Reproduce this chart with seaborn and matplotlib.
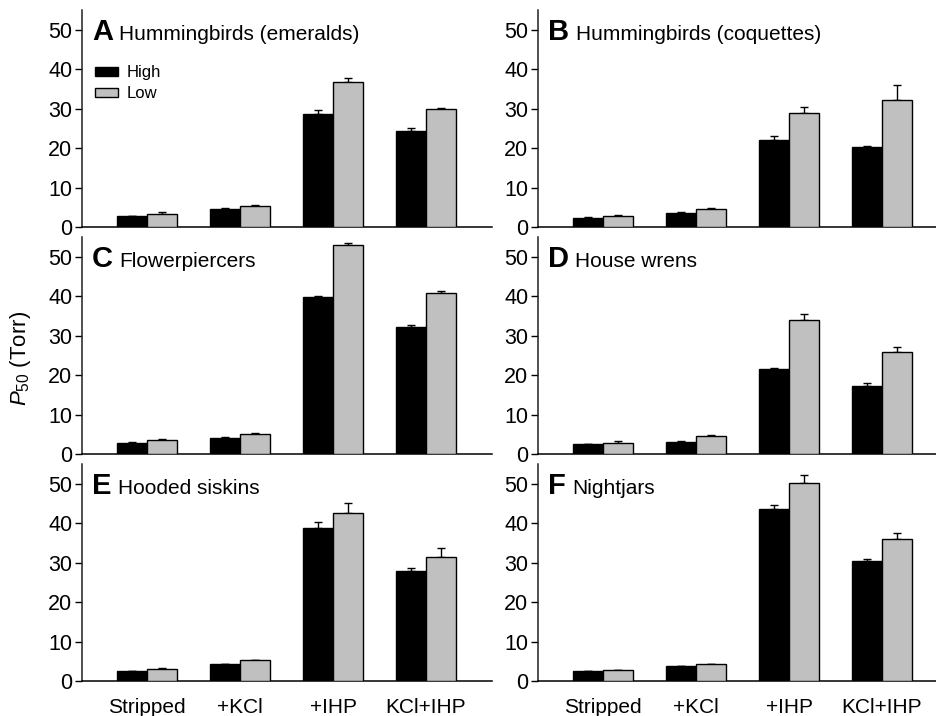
import matplotlib
matplotlib.use("Agg")
import matplotlib.pyplot as plt
from matplotlib.patches import Patch
import seaborn as sns
import pandas as pd
import numpy as np

# ---------------- data ----------------
conditions = ["Stripped", "+KCl", "+IHP", "KCl+IHP"]
groups = ["High", "Low"]
panel_letters = ["A", "B", "C", "D", "E", "F"]
panel_names = ["Hummingbirds (emeralds)", "Hummingbirds (coquettes)",
               "Flowerpiercers", "House wrens", "Hooded siskins", "Nightjars"]

A_high = [2.8, 4.6, 28.6, 24.3]
A_high_se = [0.1, 0.1, 1.1, 0.9]
A_low = [3.2, 5.4, 36.8, 29.9]
A_low_se = [0.5, 0.3, 0.9, 0.3]

B_high = [2.4, 3.6, 22.0, 20.3]
B_high_se = [0.1, 0.1, 1.0, 0.3]
B_low = [2.9, 4.6, 28.9, 32.1]
B_low_se = [0.1, 0.1, 1.6, 3.9]

C_high = [2.9, 4.1, 39.7, 32.2]
C_high_se = [0.1, 0.1, 0.4, 0.5]
C_low = [3.6, 5.1, 52.9, 40.8]
C_low_se = [0.3, 0.1, 0.7, 0.4]

D_high = [2.5, 3.1, 21.5, 17.2]
D_high_se = [0.1, 0.2, 0.4, 0.7]
D_low = [2.9, 4.6, 34.0, 25.8]
D_low_se = [0.3, 0.1, 1.6, 1.3]

E_high = [2.5, 4.2, 38.9, 27.9]
E_high_se = [0.1, 0.1, 1.3, 0.7]
E_low = [3.1, 5.2, 42.6, 31.5]
E_low_se = [0.1, 0.2, 2.6, 2.2]

F_high = [2.5, 3.8, 43.6, 30.3]
F_high_se = [0.1, 0.1, 1.1, 0.7]
F_low = [2.8, 4.2, 50.3, 36.1]
F_low_se = [0.1, 0.2, 1.8, 1.3]

yticks = [0, 10, 20, 30, 40, 50]

panels = [
    (A_high, A_high_se, A_low, A_low_se),
    (B_high, B_high_se, B_low, B_low_se),
    (C_high, C_high_se, C_low, C_low_se),
    (D_high, D_high_se, D_low, D_low_se),
    (E_high, E_high_se, E_low, E_low_se),
    (F_high, F_high_se, F_low, F_low_se),
]

# ---------------- style ----------------
sns.set_style("ticks")
plt.rcParams["font.family"] = ["Liberation Sans", "DejaVu Sans"]
plt.rcParams["mathtext.fontset"] = "custom"
plt.rcParams["mathtext.rm"] = "Liberation Sans"
plt.rcParams["mathtext.it"] = "Liberation Sans:italic"
plt.rcParams["axes.linewidth"] = 1.1
plt.rcParams["text.color"] = "black"
plt.rcParams["xtick.color"] = "black"
plt.rcParams["ytick.color"] = "black"
plt.rcParams["axes.edgecolor"] = "black"
plt.rcParams["axes.labelcolor"] = "black"

colors = {"High": "#000000", "Low": "#c0c0c0"}

W, H = 936, 716
fig = plt.figure(figsize=(W / 100, H / 100), dpi=100)

ax_w = 410 / W
ax_h = 217 / H
lefts = [82 / W, 538 / W]
bottoms = [1 - 227 / H, 1 - 454 / H, 1 - 681 / H]

renderer = fig.canvas.get_renderer()

for i, (hi, hi_se, lo, lo_se) in enumerate(panels):
    row, col = divmod(i, 2)
    ax = fig.add_axes([lefts[col], bottoms[row], ax_w, ax_h])
    df = pd.DataFrame({
        "condition": conditions * 2,
        "group": ["High"] * 4 + ["Low"] * 4,
        "value": hi + lo,
    })
    sns.barplot(data=df, x="condition", y="value", hue="group",
                order=conditions, hue_order=groups, palette=colors,
                width=0.645, edgecolor="black", linewidth=1.0,
                errorbar=None, legend=False, ax=ax, zorder=3)
    for cont, errs in zip(ax.containers, [hi_se, lo_se]):
        xs = [p.get_x() + p.get_width() / 2 for p in cont.patches]
        hs = [p.get_height() for p in cont.patches]
        ax.errorbar(xs, hs, yerr=[np.zeros(len(errs)), errs], fmt="none",
                    ecolor="black", elinewidth=1.0, capsize=3.2,
                    capthick=1.0, zorder=2)
    ax.set_xlim(-0.70, 3.71)
    ax.set_ylim(0, 55)
    ax.set_yticks(yticks)
    ax.tick_params(axis="y", labelsize=15.5, length=5, width=1.0,
                   direction="out", pad=2, colors="black")
    ax.tick_params(axis="x", length=0, labelsize=15, pad=12, colors="black")
    if row < 2:
        ax.set_xticklabels([])
    ax.set_xlabel("")
    ax.set_ylabel("")
    sns.despine(ax=ax)
    ax.spines["left"].set_color("#202020")
    ax.spines["bottom"].set_color("black")

    tr = ax.get_yaxis_transform()
    t = ax.text(0.024, 47.3, panel_letters[i], transform=tr,
                fontsize=21, fontweight="bold", ha="left", va="baseline",
                color="black")
    bb = t.get_window_extent(renderer)
    x_end = ax.transAxes.inverted().transform((bb.x1, bb.y0))[0]
    ax.text(x_end + 0.016, 47.3, panel_names[i], transform=tr,
            fontsize=15, ha="left", va="baseline", color="black")

    if i == 0:
        handles = [Patch(facecolor=colors[g], edgecolor="black", linewidth=1.0)
                   for g in groups]
        ax.legend(handles, groups, loc="upper left",
                  bbox_to_anchor=(0.032, 0.745), frameon=False,
                  fontsize=12, handlelength=1.4, handleheight=0.5,
                  handletextpad=0.5, labelspacing=0.35, borderpad=0,
                  borderaxespad=0)

fig.text(0.022, 0.499, r"$P_{50}$ (Torr)", rotation=90, fontsize=16,
         ha="center", va="center", color="black")

fig.savefig("out.png", dpi=100)
